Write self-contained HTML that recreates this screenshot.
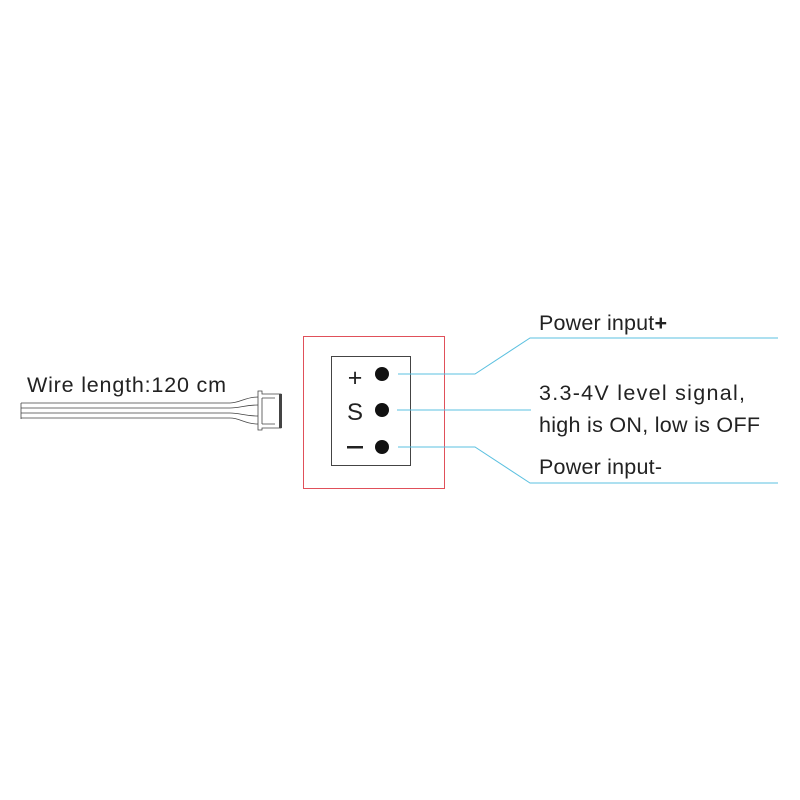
<!DOCTYPE html>
<html><head><style>body{margin:0;background:#fff}svg{display:block}</style></head><body>
<svg width="800" height="800" xmlns="http://www.w3.org/2000/svg" font-family="Liberation Sans, sans-serif">
<rect x="303.5" y="336.5" width="141" height="152" fill="none" stroke="#e0505a" stroke-width="1"/>
<rect x="331.5" y="356.5" width="79" height="109" fill="none" stroke="#444" stroke-width="1"/>
<text x="355" y="386" font-size="25" text-anchor="middle" fill="#222">+</text>
<text x="355" y="420" font-size="24" text-anchor="middle" fill="#222">S</text>
<rect x="347" y="446" width="16" height="2.5" fill="#222"/>
<circle cx="382" cy="374" r="7" fill="#111"/>
<circle cx="382" cy="410" r="7" fill="#111"/>
<circle cx="382" cy="447" r="7" fill="#111"/>
<g stroke="#5bc0e0" stroke-width="1" fill="none">
<polyline points="398,374 475,374 530,338 778,338"/>
<polyline points="397,410 531,410"/>
<polyline points="398,447 475,447 530,483 778,483"/>
</g>
<g font-size="21.5" fill="#222">
<text x="539" y="330" textLength="128" lengthAdjust="spacing">Power input<tspan font-weight="bold">+</tspan></text>
<text x="539" y="400" textLength="206" lengthAdjust="spacing">3.3-4V level  signal,</text>
<text x="539" y="432" textLength="221" lengthAdjust="spacing">high is ON, low is OFF</text>
<text x="539" y="474" textLength="123" lengthAdjust="spacing">Power input-</text>
<text x="27" y="392" textLength="199" lengthAdjust="spacing">Wire length:120 cm</text>
</g>
<g stroke="#444" stroke-width="0.8" fill="none">
<line x1="21" y1="403" x2="21" y2="419"/>
<path d="M21,403 H230 C240,403 245,397 258,397"/>
<path d="M21,408 H230 C240,408 245,405 258,405"/>
<path d="M21,413 H230 C240,413 245,416 258,416"/>
<path d="M21,418 H230 C240,418 245,424 258,424"/>
<path d="M258,391 H262 V394 H281 V428 H262 V430 H258 Z"/>
<path d="M262,398 H275 M262,424 H275 M262,398 V424"/>
</g>
<rect x="279" y="394" width="3" height="34" fill="#444"/>
</svg>
</body></html>
